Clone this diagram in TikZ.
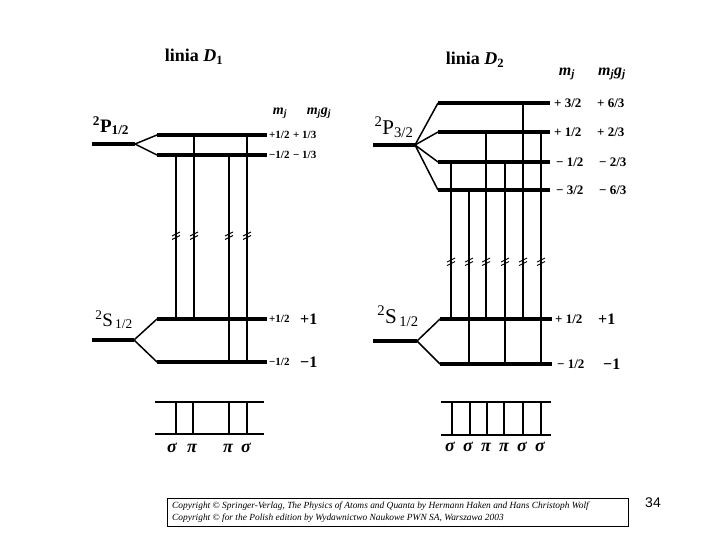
\documentclass[tikz,border=0pt]{standalone}
\usepackage{fontspec}
\setmainfont{Liberation Serif}
\newfontfamily\pagefont{Liberation Sans}
\newcommand{\cutmark}[2]{\draw[line width=0.9pt] (#1-4,#2+1) -- (#1+4,#2-3) (#1-4,#2+4.5) -- (#1+4,#2+0.5);}

\begin{document}
\begin{tikzpicture}[x=1pt,y=-1pt,
  level/.style={line width=3.6pt},
  split/.style={line width=1.5pt},
  trans/.style={line width=1.4pt},
  pitrans/.style={line width=2pt},
  band/.style={line width=1.8pt},
  mval/.style={anchor=west,inner sep=0pt,font=\fontsize{11}{11}\selectfont\bfseries},
  mvalb/.style={anchor=west,inner sep=0pt,font=\fontsize{13}{13}\selectfont\bfseries},
  gval/.style={anchor=west,inner sep=0pt,font=\fontsize{16}{16}\selectfont\bfseries},
  head/.style={inner sep=0pt,font=\fontsize{14}{14}\selectfont\bfseries\itshape},
  headb/.style={inner sep=0pt,font=\fontsize{16}{16}\selectfont\bfseries\itshape},
  term/.style={inner sep=0pt,font=\fontsize{19}{19}\selectfont},
  termb/.style={inner sep=0pt,font=\fontsize{21}{21}\selectfont},
  title/.style={inner sep=0pt,font=\fontsize{18}{18}\selectfont\bfseries},
  pol/.style={inner sep=0pt,font=\fontsize{18}{18}\selectfont\bfseries\itshape}
]
\useasboundingbox (0,0) rectangle (720,540);

\node[title] (t1) at (194,57) {linia \textit{D}\textsubscript{1}};
\node[title] (t2) at (475,60) {linia \textit{D}\textsubscript{2}};

\node[term,font=\fontsize{19}{19}\selectfont\bfseries] (p1) at (111,126) {\textsuperscript{2}P\textsubscript{1/2}};
\node[term] (s1) at (114,320) {\textsuperscript{2}S\textsubscript{\,1/2}};
\node[termb] (p2) at (394,127) {\textsuperscript{2}P\textsubscript{3/2}};
\node[termb] (s2) at (398,316) {\textsuperscript{2}S\textsubscript{\,1/2}};

\node[head] (mj1) at (280,113) {m\textsubscript{j}};
\node[head] (mg1) at (319,113) {m\textsubscript{j}g\textsubscript{j}};
\node[headb] (mj2) at (567,74) {m\textsubscript{j}};
\node[headb] (mg2) at (612,74) {m\textsubscript{j}g\textsubscript{j}};

\coordinate (p1o) at (135,144);
\coordinate (p1a) at (157,135);
\coordinate (p1b) at (157,155);
\draw[level] (92,144) -- (p1o);
\draw[split] (p1o) -- (p1a);
\draw[split] (p1o) -- (p1b);
\draw[level] (p1a) -- (267,135);
\draw[level] (p1b) -- (267,155);

\coordinate (s1o) at (134,340);
\coordinate (s1a) at (157,319);
\coordinate (s1b) at (157,362);
\draw[level] (92,340) -- (s1o);
\draw[split] (s1o) -- (s1a);
\draw[split] (s1o) -- (s1b);
\draw[level] (s1a) -- (267,319);
\draw[level] (s1b) -- (267,362);

\node[mval] at (269,135) {+1/2};
\node[mval] at (293,135) {+ 1/3};
\node[mval] at (269,155) {−1/2};
\node[mval] at (293,155) {− 1/3};
\node[mval] at (269,319) {+1/2};
\node[gval] at (300,319) {+1};
\node[mval] at (269,362) {−1/2};
\node[gval] at (300,362) {−1};

\draw[trans] (176,155) -- (176,319);
\draw[pitrans] (194,135) -- (194,319);
\draw[trans] (229,155) -- (229,362);
\draw[trans] (247,135) -- (247,362);
\cutmark{176}{235}
\cutmark{194}{235}
\cutmark{229}{235}
\cutmark{247}{235}

\draw[band] (155,402) -- (264,402);
\draw[band] (155,434) -- (264,434);
\draw[band] (176,402) -- (176,434);
\draw[band] (193,402) -- (193,434);
\draw[band] (229,402) -- (229,434);
\draw[band] (247,402) -- (247,434);
\node[pol] (a1) at (172,448) {σ};
\node[pol] (a2) at (192,448) {π};
\node[pol] (a3) at (228,448) {π};
\node[pol] (a4) at (246,448) {σ};

\coordinate (p2o) at (415,145);
\coordinate (p2a) at (438,103);
\coordinate (p2b) at (438,132);
\coordinate (p2c) at (438,162);
\coordinate (p2d) at (438,190);
\draw[level] (373,145) -- (p2o);
\draw[split] (p2o) -- (p2a);
\draw[split] (p2o) -- (p2b);
\draw[split] (p2o) -- (p2c);
\draw[split] (p2o) -- (p2d);
\draw[level] (p2a) -- (550,103);
\draw[level] (p2b) -- (550,132);
\draw[level] (p2c) -- (550,162);
\draw[level] (p2d) -- (550,190);

\coordinate (s2o) at (417,341);
\coordinate (s2a) at (440,319);
\coordinate (s2b) at (440,364);
\draw[level] (373,341) -- (s2o);
\draw[split] (s2o) -- (s2a);
\draw[split] (s2o) -- (s2b);
\draw[level] (s2a) -- (552,319);
\draw[level] (s2b) -- (552,364);

\node[mvalb] at (554,103) {+ 3/2};
\node[mvalb] at (597,103) {+ 6/3};
\node[mvalb] at (554,132) {+ 1/2};
\node[mvalb] at (597,132) {+ 2/3};
\node[mvalb] at (556,162) {− 1/2};
\node[mvalb] at (599,162) {− 2/3};
\node[mvalb] at (556,190) {− 3/2};
\node[mvalb] at (599,190) {− 6/3};
\node[mvalb] at (555,319) {+ 1/2};
\node[gval] at (598,319) {+1};
\node[mvalb] at (557,364) {− 1/2};
\node[gval] at (603,364) {−1};

\draw[trans] (451,162) -- (451,319);
\draw[trans] (469,190) -- (469,364);
\draw[trans] (486,132) -- (486,319);
\draw[trans] (505,162) -- (505,364);
\draw[pitrans] (523,103) -- (523,319);
\draw[trans] (541,132) -- (541,364);
\cutmark{451}{261}
\cutmark{469}{261}
\cutmark{486}{261}
\cutmark{505}{261}
\cutmark{523}{261}
\cutmark{541}{261}

\draw[band] (441,402) -- (551,402);
\draw[band] (441,435) -- (551,435);
\draw[band] (452,402) -- (452,435);
\draw[band] (470,402) -- (470,435);
\draw[band] (487,402) -- (487,435);
\draw[band] (504,402) -- (504,435);
\draw[band] (523,402) -- (523,435);
\draw[band] (541,402) -- (541,435);
\node[pol] (b1) at (450,447) {σ};
\node[pol] (b2) at (468,447) {σ};
\node[pol] (b3) at (486,447) {π};
\node[pol] (b4) at (504,447) {π};
\node[pol] (b5) at (522,447) {σ};
\node[pol] (b6) at (540,447) {σ};

\node[draw,line width=0.8pt,minimum width=461pt,minimum height=28pt,anchor=north west,inner sep=0pt] (cr) at (167,498) {};
\node[anchor=west,inner sep=0pt,align=left,font=\fontsize{9.4}{12}\selectfont\itshape] (crt) at (172,512)
  {Copyright © Springer-Verlag, The Physics of Atoms and Quanta by Hermann Haken and Hans Christoph Wolf\\
   Copyright © for the Polish edition by Wydawnictwo Naukowe PWN SA, Warszawa 2003};
\node[inner sep=0pt,font=\pagefont\fontsize{14}{14}\selectfont] (pg) at (653,503) {34};
\end{tikzpicture}
\end{document}
